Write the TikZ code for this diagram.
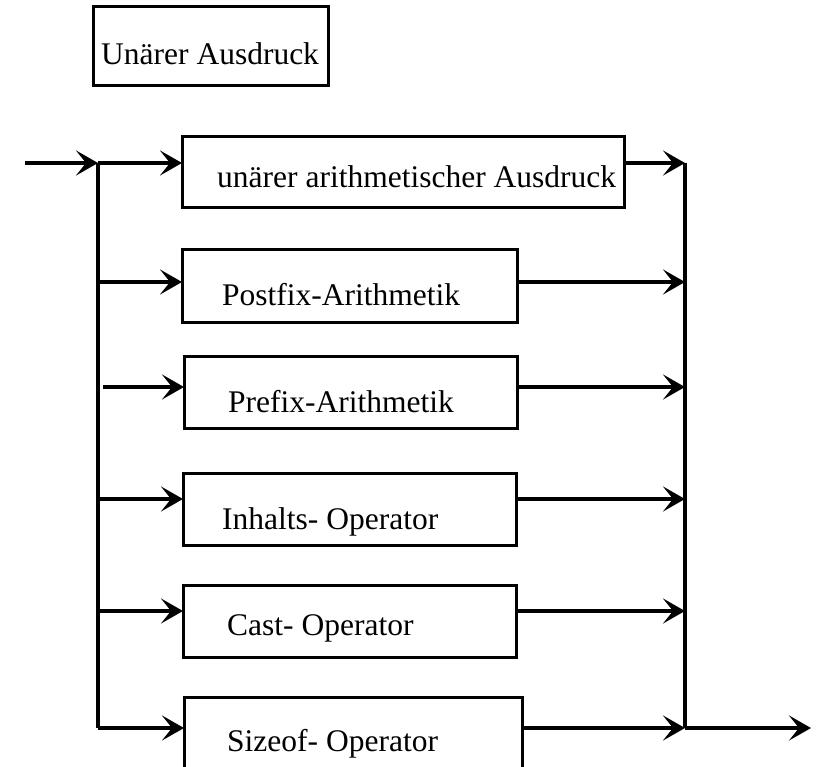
\documentclass[tikz,border=0pt]{standalone}
\usepackage{fontspec}
\setmainfont{Liberation Serif}
\usetikzlibrary{arrows.meta}
\begin{document}
\begin{tikzpicture}[x=1pt,y=-1pt,
  box/.style={draw, line width=3pt, rectangle, inner sep=0pt, outer sep=0pt},
  txt/.style={anchor=base west, inner sep=0pt, font=\fontsize{31.5}{36}\selectfont},
  conn/.style={line width=3.2pt},
  arr/.style={conn, -{Stealth[length=22pt,width=25pt,inset=10pt]}}]
\useasboundingbox (0,0) rectangle (818,767);
\clip (0,0) rectangle (818,767);
\fill[white] (0,0) rectangle (818,767);
% title
\node[box, minimum width=235pt, minimum height=79pt] (t) at (210.5,46.5) {};
\node[txt] (tt) at (101,65) {Unärer Ausdruck};
% boxes
\node[box, minimum width=442pt, minimum height=71pt] (b1) at (403,172.5) {};
\node[txt] (t1) at (217,188) {unärer arithmetischer Ausdruck};
\node[box, minimum width=335pt, minimum height=73pt] (b2) at (349.5,285.5) {};
\node[txt] (t2) at (222,305) {Postfix-Arithmetik};
\node[box, minimum width=333pt, minimum height=72pt] (b3) at (350.5,392) {};
\node[txt] (t3) at (228,412) {Prefix-Arithmetik};
\node[box, minimum width=333pt, minimum height=72pt] (b4) at (349.5,509) {};
\node[txt] (t4) at (222,529) {Inhalts- Operator};
\node[box, minimum width=333pt, minimum height=72pt] (b5) at (349.5,621) {};
\node[txt] (t5) at (227,635) {Cast- Operator};
\node[box, minimum width=338pt, minimum height=72pt] (b6) at (353,733) {};
\node[txt] (t6) at (227,751) {Sizeof- Operator};
% coordinates
\coordinate (in) at (25,163);
\coordinate (lb1) at (98,163);
\coordinate (lb2) at (98,282);
\coordinate (lb3) at (103,387);
\coordinate (lb4) at (98,499);
\coordinate (lb5) at (98,611);
\coordinate (lb6) at (98,728);
\coordinate (rb1) at (685,163);
\coordinate (rb2) at (685,282);
\coordinate (rb3) at (685,387);
\coordinate (rb4) at (685,499);
\coordinate (rb5) at (685,611);
\coordinate (rb6) at (685,728);
\coordinate (out) at (811,728);
% left bus
\draw[conn] (lb1) -- (lb6);
\draw[arr] (in) -- (lb1);
\draw[arr] (lb1) -- (lb1 -| b1.west);
\draw[arr] (lb2) -- (lb2 -| b2.west);
\draw[arr] (lb3) -- (lb3 -| b3.west);
\draw[arr] (lb4) -- (lb4 -| b4.west);
\draw[arr] (lb5) -- (lb5 -| b5.west);
\draw[arr] (lb6) -- (lb6 -| b6.west);
% right bus
\draw[conn] (rb1) -- (rb6);
\draw[arr] (b1.east |- rb1) -- (rb1);
\draw[arr] (b2.east |- rb2) -- (rb2);
\draw[arr] (b3.east |- rb3) -- (rb3);
\draw[arr] (b4.east |- rb4) -- (rb4);
\draw[arr] (b5.east |- rb5) -- (rb5);
\draw[arr] (b6.east |- rb6) -- (rb6);
\draw[arr] (rb6) -- (out);
\end{tikzpicture}
\end{document}
